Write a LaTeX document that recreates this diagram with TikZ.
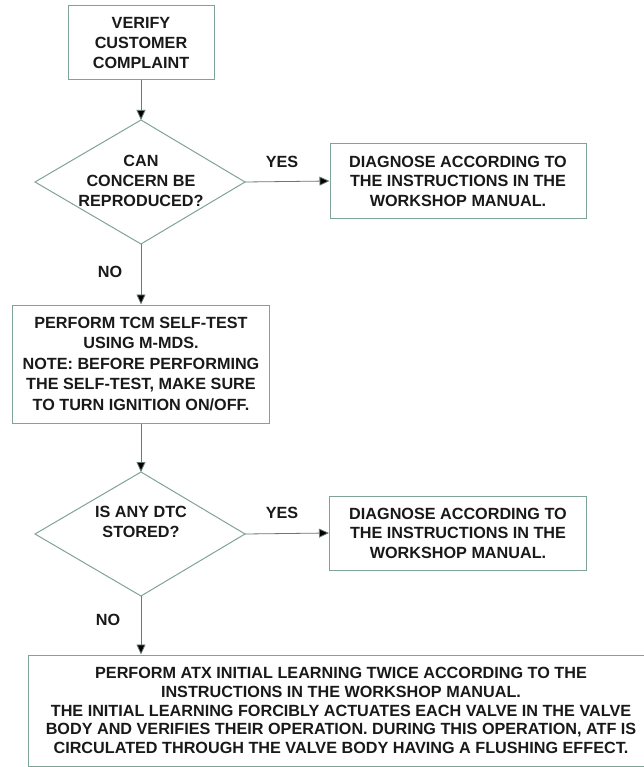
\documentclass[tikz,border=0pt]{standalone}
\usepackage{fontspec}
\setmainfont{Liberation Sans}
\usetikzlibrary{shapes.geometric,arrows.meta}
\definecolor{boxedge}{HTML}{7FA394}
\definecolor{linecol}{HTML}{6A7A72}
\tikzset{
  every node/.style={font=\bfseries\fontsize{16.2}{19.5}\selectfont, text=black!90},
  procbox/.style={draw=boxedge, line width=1pt, align=center, inner sep=0pt},
  conn/.style={draw=linecol, line width=0.8pt, -{Triangle[length=10pt,width=9pt,fill=black]}},
  lbl/.style={inner sep=0pt}
}
\begin{document}
\begin{tikzpicture}[x=1pt,y=-1pt]
\useasboundingbox (0,0) rectangle (643,767);
% boxes
\node[procbox, minimum width=146pt, minimum height=74pt, font=\bfseries\fontsize{16.2}{20}\selectfont] (verify) at (141,43) {VERIFY\\CUSTOMER\\COMPLAINT};
\coordinate (d1t) at (141,120);
\coordinate (d1l) at (35,182);
\coordinate (d1r) at (245,182);
\coordinate (d1b) at (141,244);
\draw[draw=boxedge, line width=1pt] (d1t) -- (d1r) -- (d1b) -- (d1l) -- cycle;
\node[lbl, align=center, font=\bfseries\fontsize{16.2}{20}\selectfont] (q1) at (141,181) {CAN\\CONCERN BE\\REPRODUCED?};
\node[procbox, minimum width=256pt, minimum height=75pt] (diag1) at (458,181) {DIAGNOSE ACCORDING TO\\THE INSTRUCTIONS IN THE\\WORKSHOP MANUAL.};
\node[procbox, minimum width=257pt, minimum height=118pt, font=\bfseries\fontsize{16.2}{20.5}\selectfont] (tcm) at (141,364) {PERFORM TCM SELF-TEST\\USING M-MDS.\\NOTE: BEFORE PERFORMING\\THE SELF-TEST, MAKE SURE\\TO TURN IGNITION ON/OFF.};
\coordinate (d2t) at (141,472);
\coordinate (d2l) at (35,534);
\coordinate (d2r) at (245,534);
\coordinate (d2b) at (141,596);
\draw[draw=boxedge, line width=1pt] (d2t) -- (d2r) -- (d2b) -- (d2l) -- cycle;
\node[lbl, align=center, font=\bfseries\fontsize{16.2}{20}\selectfont] (q2) at (141,522) {IS ANY DTC\\STORED?};
\node[procbox, minimum width=257pt, minimum height=74pt] (diag2) at (458,533) {DIAGNOSE ACCORDING TO\\THE INSTRUCTIONS IN THE\\WORKSHOP MANUAL.};
\node[procbox, minimum width=626pt, minimum height=111pt, font=\bfseries\fontsize{16.2}{18.8}\selectfont] (atx) at (341,710.5) {PERFORM ATX INITIAL LEARNING TWICE ACCORDING TO THE\\INSTRUCTIONS IN THE WORKSHOP MANUAL.\\THE INITIAL LEARNING FORCIBLY ACTUATES EACH VALVE IN THE VALVE\\BODY AND VERIFIES THEIR OPERATION. DURING THIS OPERATION, ATF IS\\CIRCULATED THROUGH THE VALVE BODY HAVING A FLUSHING EFFECT.};
% connectors
\draw[conn] (verify.south) -- (d1t);
\draw[conn] (d1r) -- (diag1.west);
\draw[conn] (d1b) -- (tcm.north);
\draw[conn] (tcm.south) -- (d2t);
\draw[conn] (d2r) -- (diag2.west);
\draw[conn] (d2b) -- (atx.north -| d2b);
% labels
\node[lbl] (yes1) at (282,162) {YES};
\node[lbl] (no1) at (110,272) {NO};
\node[lbl] (yes2) at (282,513) {YES};
\node[lbl] (no2) at (108,620) {NO};
\end{tikzpicture}
\end{document}
